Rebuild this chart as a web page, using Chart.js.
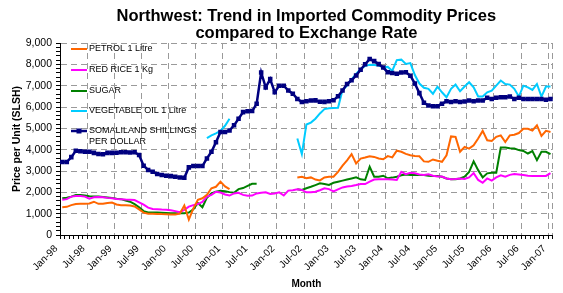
<!DOCTYPE html>
<html>
<head>
<meta charset="utf-8">
<script src="https://cdn.jsdelivr.net/npm/chart.js@4.4.1/dist/chart.umd.min.js"></script>
<style>
  html, body { margin: 0; padding: 0; background: #fff; }
</style>
</head>
<body>
<canvas id="chart" width="563" height="293"></canvas>
<script>
const titleLines = ['Northwest: Trend in Imported Commodity Prices', 'compared to Exchange Rate'];

const months = [
  'Jan-98','Feb-98','Mar-98','Apr-98','May-98','Jun-98','Jul-98','Aug-98','Sep-98','Oct-98','Nov-98','Dec-98',
  'Jan-99','Feb-99','Mar-99','Apr-99','May-99','Jun-99','Jul-99','Aug-99','Sep-99','Oct-99','Nov-99','Dec-99',
  'Jan-00','Feb-00','Mar-00','Apr-00','May-00','Jun-00','Jul-00','Aug-00','Sep-00','Oct-00','Nov-00','Dec-00',
  'Jan-01','Feb-01','Mar-01','Apr-01','May-01','Jun-01','Jul-01','Aug-01','Sep-01','Oct-01','Nov-01','Dec-01',
  'Jan-02','Feb-02','Mar-02','Apr-02','May-02','Jun-02','Jul-02','Aug-02','Sep-02','Oct-02','Nov-02','Dec-02',
  'Jan-03','Feb-03','Mar-03','Apr-03','May-03','Jun-03','Jul-03','Aug-03','Sep-03','Oct-03','Nov-03','Dec-03',
  'Jan-04','Feb-04','Mar-04','Apr-04','May-04','Jun-04','Jul-04','Aug-04','Sep-04','Oct-04','Nov-04','Dec-04',
  'Jan-05','Feb-05','Mar-05','Apr-05','May-05','Jun-05','Jul-05','Aug-05','Sep-05','Oct-05','Nov-05','Dec-05',
  'Jan-06','Feb-06','Mar-06','Apr-06','May-06','Jun-06','Jul-06','Aug-06','Sep-06','Oct-06','Nov-06','Dec-06',
  'Jan-07'
];

// one row per year, Jan..Dec
const petrol = [
  1300,1320,1400,1450,1460,1460,1480,1560,1460,1460,1500,1520,
  1430,1400,1400,1380,1340,1200,1050,1000,1000,990,980,975,
  960,960,1000,1380,720,1250,1650,1720,1880,2190,2260,2500,
  2280,2150,null,null,null,null,null,null,null,null,null,null,
  null,null,null,null,2700,2730,2660,2700,2600,2560,2700,2730,
  2730,2960,3250,3500,3790,3350,3580,3630,3690,3660,3590,3550,
  3700,3640,3950,3900,3800,3740,3700,3690,3450,3430,3540,3480,
  3430,3740,4620,4600,3900,4130,4050,4200,4520,4880,4440,4410,
  4600,4670,4360,4670,4700,4780,4980,4980,4900,5140,4640,4880,
  4830
];

const redRice = [
  1650,1680,1800,1830,1830,1800,1700,1770,1780,1770,1740,1720,
  1690,1680,1660,1650,1640,1530,1420,1280,1220,1210,1190,1180,
  1160,1120,1070,1180,1330,1400,1450,1550,1800,1880,2030,1990,
  1900,1850,1950,1980,1880,1840,1850,1950,1980,2000,1920,1950,
  2000,1850,2080,2100,2140,2110,2000,2000,2030,2100,2190,2150,
  2040,2140,2230,2270,2300,2340,2390,2390,2500,2600,2610,2610,
  2610,2600,2580,2960,2850,2920,2890,2840,2810,2850,2780,2740,
  2740,2650,2610,2620,2650,2630,2700,2900,2580,2450,2650,2550,
  2700,2800,2730,2820,2860,2840,2810,2780,2770,2770,2770,2770,
  2900
];

const sugar = [
  1720,1750,1800,1870,1880,1850,1820,1800,1800,1780,1760,1740,
  1700,1680,1620,1560,1450,1300,1120,1060,1050,1050,1040,1030,
  1020,1020,1020,1020,1050,1200,1500,1300,1750,1950,2030,2070,
  2050,2010,1980,2150,2200,2300,2400,2400,null,null,null,null,
  null,null,null,null,2140,2110,2190,2260,2340,2420,2390,2350,
  2450,2500,2550,2600,2650,2700,2610,2580,3200,2730,2730,2780,
  2660,2690,2730,2800,2840,2810,2810,2810,2810,2780,2760,2760,
  2730,2650,2610,2610,2650,2730,2960,3450,3040,2700,2890,2920,
  2920,4100,4100,4070,4050,3980,3940,3820,3930,3510,3900,3900,
  3790
];

const vegOil = [
  null,null,null,null,null,null,null,null,null,null,null,null,
  null,null,null,null,null,null,null,null,null,null,null,null,
  null,null,null,null,null,null,null,null,4540,4670,4760,4880,
  5120,5450,null,null,null,null,null,null,null,null,null,null,
  null,null,null,null,4520,3790,5180,5270,5450,5700,5900,5940,
  5950,5960,6800,7000,7300,7550,7780,7930,7980,7970,7940,7860,
  7880,7700,8200,8220,8020,8060,7500,7100,6900,6850,6620,6950,
  6690,6460,6850,7050,6740,6960,7160,6920,6490,6490,6690,6770,
  7000,7240,7080,7050,6850,6490,7000,6920,6800,7080,6490,6960,
  6960
];

const shillings = [
  3420,3420,3650,3950,3930,3900,3900,3850,3800,3780,3850,3850,
  3860,3880,3880,3870,3880,3750,3250,3050,2960,2860,2810,2780,
  2760,2730,2700,2680,3170,3230,3230,3230,3590,3900,4350,4830,
  4830,4900,5140,5450,5760,5800,5810,6150,7620,6920,7310,6690,
  7000,7000,6770,6620,6380,6230,6270,6300,6310,6250,6240,6270,
  6320,6500,6770,7080,7250,7480,7750,8000,8250,8150,8010,7850,
  7630,7590,7560,7620,7630,7470,7100,6650,6200,6070,6040,6040,
  6150,6270,6230,6270,6230,6260,6300,6270,6300,6300,6430,6380,
  6430,6460,6460,6490,6380,6430,6380,6380,6380,6380,6380,6340,
  6380
];

const FONT = '"Liberation Sans", Arial, sans-serif';
const GRID = '#9a9a9a';

const legendRows = [
  { lines: ['PETROL 1 Litre'], color: '#ff6600', y: 49 },
  { lines: ['RED RICE 1 Kg'], color: '#ff00ff', y: 70 },
  { lines: ['SUGAR'], color: '#008000', y: 91 },
  { lines: ['VEGETABLE OIL 1 Litre'], color: '#00ccff', y: 111 },
  { lines: ['SOMALILAND SHILLINGS', 'PER DOLLAR'], color: '#000080', y: 131, marker: true }
];

// title and in-plot legend
const overlay = {
  id: 'overlay',
  afterDraw(chart) {
    const { ctx, chartArea } = chart;
    const cx = (chartArea.left + chartArea.right) / 2;
    ctx.save();
    ctx.fillStyle = '#000';
    ctx.textAlign = 'center';
    ctx.textBaseline = 'alphabetic';
    ctx.font = 'bold 16.5px ' + FONT;
    ctx.fillText(titleLines[0], cx, 21);
    ctx.fillText(titleLines[1], cx, 38);

    ctx.textAlign = 'left';
    ctx.textBaseline = 'middle';
    ctx.font = '9px ' + FONT;
    legendRows.forEach(row => {
      ctx.strokeStyle = row.color;
      ctx.lineWidth = row.marker ? 2.5 : 2;
      ctx.beginPath();
      ctx.moveTo(71, row.y);
      ctx.lineTo(87, row.y);
      ctx.stroke();
      if (row.marker) {
        ctx.fillStyle = row.color;
        ctx.fillRect(76.5, row.y - 2.5, 5, 5);
      }
      ctx.fillStyle = '#000';
      row.lines.forEach((t, i) => ctx.fillText(t, 89, row.y + i * 10.5));
    });
    ctx.restore();
  }
};

function line(label, data, color, order, width) {
  return {
    label: label,
    data: data,
    borderColor: color,
    backgroundColor: color,
    borderWidth: width || 2,
    pointRadius: 0,
    tension: 0,
    spanGaps: false,
    order: order
  };
}

const shillingSet = line('SOMALILAND SHILLINGS PER DOLLAR', shillings, '#000080', 0, 2.5);
shillingSet.pointRadius = 3.2;
shillingSet.pointStyle = 'rect';
shillingSet.pointBorderWidth = 0;

new Chart(document.getElementById('chart'), {
  type: 'line',
  data: {
    labels: months,
    datasets: [
      line('PETROL 1 Litre', petrol, '#ff6600', 2),
      line('RED RICE 1 Kg', redRice, '#ff00ff', 3),
      line('SUGAR', sugar, '#008000', 4),
      line('VEGETABLE OIL 1 Litre', vegOil, '#00ccff', 1),
      shillingSet
    ]
  },
  options: {
    responsive: false,
    animation: false,
    layout: { padding: { top: 43, right: 5, left: 0, bottom: 0 } },
    plugins: {
      legend: { display: false },
      title: { display: false },
      tooltip: { enabled: false }
    },
    scales: {
      x: {
        type: 'category',
        offset: true,
        afterFit: s => { s.height = 58; },
        grid: {
          offset: true,
          color: c => (c.index === undefined || c.index % 6 === 0) ? GRID : 'rgba(0,0,0,0)',
          tickColor: '#000',
          tickLength: 4,
          lineWidth: 1
        },
        border: { color: '#000', width: 1, dash: [6, 4] },
        ticks: {
          autoSkip: false,
          maxRotation: 45,
          minRotation: 45,
          labelOffset: -6,
          padding: 4,
          color: '#000',
          font: { family: FONT, size: 10 },
          callback: function (value, index) {
            return index % 6 === 0 ? months[index] : '';
          }
        },
        title: {
          display: true,
          text: 'Month',
          color: '#000',
          font: { family: FONT, size: 10, weight: 'bold' },
          padding: { top: 0, bottom: 3 }
        }
      },
      y: {
        min: 0,
        max: 9000,
        afterFit: s => { s.width = 60; },
        grid: {
          color: c => (c.tick && Math.round(c.tick.value) % 1000 === 0 && c.tick.value > 0) ? GRID : 'rgba(0,0,0,0)',
          tickColor: '#000',
          tickLength: 4,
          lineWidth: 1
        },
        border: { color: '#000', width: 1, dash: [6, 4] },
        ticks: {
          stepSize: 200,
          autoSkip: false,
          padding: 4,
          color: '#000',
          font: { family: FONT, size: 10.5 },
          callback: v => Math.round(v) % 1000 === 0 ? Math.round(v).toLocaleString('en-US') : ''
        },
        title: {
          display: true,
          text: 'Price per Unit (SLSH)',
          color: '#000',
          font: { family: FONT, size: 10.5, weight: 'bold' },
          padding: { top: 11, bottom: 0 }
        }
      }
    }
  },
  plugins: [overlay]
});
</script>
</body>
</html>
